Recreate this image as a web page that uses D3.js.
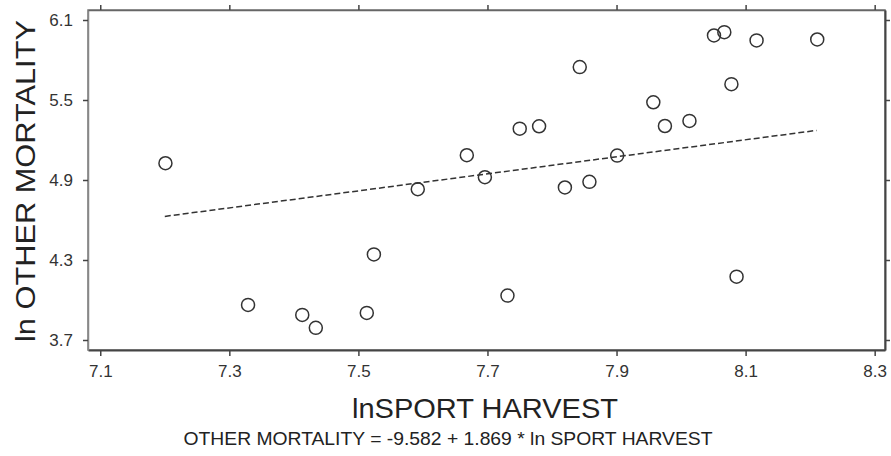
<!DOCTYPE html>
<html>
<head>
<meta charset="utf-8">
<script src="https://cdn.jsdelivr.net/npm/d3@7"></script>
<style>
  body { margin: 0; background: #fff; }
  svg { display: block; }
  .axis text { font-family: "Liberation Sans", Arial, sans-serif; font-size: 17px; fill: #333; }
</style>
</head>
<body>
<svg id="chart" width="891" height="456"></svg>
<script>
// sport harvest (ln) vs other mortality (ln)
const harvest = [7.201, 7.329, 7.413, 7.434, 7.513, 7.524, 7.592, 7.668, 7.696, 7.731,
    7.750, 7.780, 7.820, 7.843, 7.858, 7.901, 7.957, 7.975, 8.013, 8.051,
    8.067, 8.078, 8.086, 8.117, 8.211];
const mortality = [5.026, 3.963, 3.888, 3.791, 3.903, 4.342, 4.831, 5.086, 4.921, 4.033,
    5.285, 5.303, 4.844, 5.747, 4.886, 5.083, 5.483, 5.305, 5.343, 5.984,
    6.009, 5.619, 4.175, 5.947, 5.954];

// fitted line end points as drawn
const fitX = [7.20, 8.21];
const fitY = [4.627, 5.272];

const xTicks = [7.1, 7.3, 7.5, 7.7, 7.9, 8.1, 8.3];
const yTicks = [3.7, 4.3, 4.9, 5.5, 6.1];
const xDomain = [7.081, 8.316];
const yDomain = [3.625, 6.175];

const svg = d3.select('#chart');
const width = +svg.attr('width');
const height = +svg.attr('height');
const margin = { top: 10, right: 6, bottom: 106, left: 88 };
const font = '"Liberation Sans", Arial, sans-serif';

let x = d3.scaleLinear().domain(xDomain).range([margin.left, width - margin.right]);
let y = d3.scaleLinear().domain(yDomain).range([height - margin.bottom, margin.top]);

let fmt = d3.format('.1f');

// frame
svg.append('rect')
    .attr('x', margin.left)
    .attr('y', margin.top)
    .attr('width', width - margin.left - margin.right)
    .attr('height', height - margin.top - margin.bottom)
    .attr('fill', 'none')
    .attr('stroke', '#777')
    .attr('stroke-width', 1.5);

function styleAxis(g) {
    g.attr('class', 'axis');
    g.select('.domain').attr('stroke', '#444').attr('stroke-width', 2);
    g.selectAll('.tick line').attr('stroke', '#444').attr('stroke-width', 1.5);
}

svg.append('g')
    .attr('transform', `translate(0,${height - margin.bottom})`)
    .call(d3.axisBottom(x).tickValues(xTicks).tickFormat(fmt).tickSize(6).tickSizeOuter(0).tickPadding(9))
    .call(styleAxis);

svg.append('g')
    .attr('transform', `translate(${margin.left},0)`)
    .call(d3.axisLeft(y).tickValues(yTicks).tickFormat(fmt).tickSize(5).tickSizeOuter(0).tickPadding(10))
    .call(styleAxis)
    .call(g => g.select('.domain').attr('stroke', '#888').attr('stroke-width', 1.5));

svg.append('g')
    .attr('transform', `translate(0,${margin.top})`)
    .call(d3.axisTop(x).tickValues(xTicks).tickFormat('').tickSize(5).tickSizeOuter(0))
    .call(styleAxis)
    .call(g => g.select('.domain').attr('stroke', '#666').attr('stroke-width', 1.5));

svg.append('g')
    .attr('transform', `translate(${width - margin.right},0)`)
    .call(d3.axisRight(y).tickValues(yTicks).tickFormat('').tickSize(5).tickSizeOuter(0))
    .call(styleAxis);

// fitted line
svg.append('path')
    .datum(d3.zip(fitX, fitY))
    .attr('fill', 'none')
    .attr('stroke', '#333')
    .attr('stroke-width', 1.5)
    .attr('stroke-dasharray', '6,3')
    .attr('d', d3.line().x(d => x(d[0])).y(d => y(d[1])));

// points
svg.append('g')
    .selectAll('circle')
    .data(d3.zip(harvest, mortality))
    .join('circle')
    .attr('cx', d => x(d[0]))
    .attr('cy', d => y(d[1]))
    .attr('r', 6.5)
    .attr('fill', 'none')
    .attr('stroke', '#333')
    .attr('stroke-width', 1.5);

// labels
svg.append('text')
    .attr('transform', 'translate(35,181) rotate(-90)')
    .attr('text-anchor', 'middle')
    .attr('textLength', 322)
    .attr('lengthAdjust', 'spacingAndGlyphs')
    .style('font-family', font)
    .style('font-size', '28px')
    .attr('fill', '#222')
    .text('ln OTHER MORTALITY');

svg.append('text')
    .attr('x', 485)
    .attr('y', 418)
    .attr('text-anchor', 'middle')
    .attr('textLength', 266)
    .attr('lengthAdjust', 'spacingAndGlyphs')
    .style('font-family', font)
    .style('font-size', '28px')
    .attr('fill', '#222')
    .text('lnSPORT HARVEST');

svg.append('text')
    .attr('x', 448)
    .attr('y', 445)
    .attr('text-anchor', 'middle')
    .attr('textLength', 529)
    .attr('lengthAdjust', 'spacingAndGlyphs')
    .style('font-family', font)
    .style('font-size', '19px')
    .attr('fill', '#222')
    .text('OTHER MORTALITY = -9.582 + 1.869 * ln SPORT HARVEST');
</script>
</body>
</html>
